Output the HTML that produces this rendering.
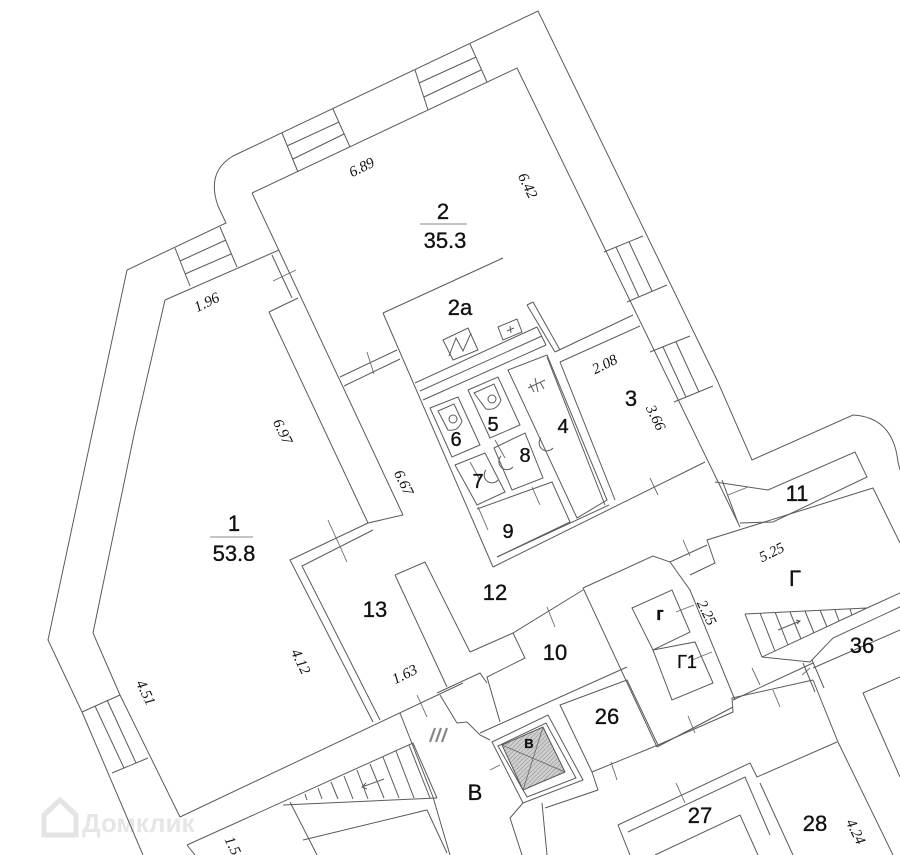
<!DOCTYPE html>
<html>
<head>
<meta charset="utf-8">
<style>
html,body{margin:0;padding:0;background:#fff;}
svg{display:block;}
.l{fill:none;stroke:#5a5a5a;stroke-width:1;stroke-linejoin:miter;}
.t{stroke:#6a6a6a;stroke-width:0.9;fill:none;}
.n{font-family:"Liberation Sans",Arial,sans-serif;font-size:22px;fill:#111;stroke:#111;stroke-width:0.35;text-anchor:middle;}
.s{font-size:20px;}
.d{font-family:"Liberation Serif","Times New Roman",serif;font-style:italic;font-size:15px;fill:#111;text-anchor:middle;dominant-baseline:central;}
</style>
</head>
<body>
<svg width="900" height="855" viewBox="0 0 900 855" xmlns="http://www.w3.org/2000/svg">
<defs>
<pattern id="h" width="3" height="3" patternUnits="userSpaceOnUse" patternTransform="rotate(45)">
<rect width="3" height="3" fill="#cfcfcf"/>
<line x1="0" y1="0" x2="0" y2="3" stroke="#8a8a8a" stroke-width="1"/>
</pattern>
</defs>
<rect width="900" height="855" fill="#fff"/>

<!-- watermark -->
<g fill="none" stroke="#e4e4e4" stroke-width="5">
<path d="M44,815 L60,800 L76,815 L76,835 L44,835 Z"/>
</g>
<text x="82" y="832" font-family="Liberation Sans,Arial,sans-serif" font-size="26" font-weight="bold" fill="#e6e6e6">Домклик</text>

<g class="l">
<!-- west / room 1 outer -->
<path d="M127,270 L48,640 L82,712 L143,855"/>
<path d="M165,300 L135,430 L93,633 L120,695 L180,817"/>
<path d="M82,712 L120,695 M112,773 L148,758 M95,706 L124,768 M107,700 L136,763"/>
<!-- top outer wall -->
<path d="M127,270 L226,223 L218,206 Q206,172 233,156 L538,11 L717,380 L752,460 L853,415 Q893,417 898,462 L900,470"/>
<!-- top-left window -->
<path d="M175,248 L190,286 M220,227 L237,267 M180,261 L226,240 M185,274 L231,254"/>
<path d="M165,300 L279,250"/>
<path d="M272,255 L292,298 M269,312 L298,298"/>
<!-- room 2 inner -->
<path d="M252,193 L517,68 L740,527"/>
<path d="M252,193 L403,515"/>
<!-- windows on top wall -->
<path d="M282,133 L298,172 M333,109 L350,147 M287,146 L339,122 M293,159 L344,134"/>
<path d="M415,70 L428,110 M470,44 L487,82 M419,83 L476,57 M424,97 L481,70"/>
<!-- windows on right wall -->
<path d="M604,252 L643,236 M627,302 L667,285 M616,247 L639,297 M629,242 L652,291"/>
<path d="M650,352 L690,336 M674,402 L713,386 M663,347 L686,397 M676,342 L699,392"/>
<!-- wall between room 1 and corridor -->
<path d="M269,312 L368,523 L403,515"/>
<path d="M368,523 L290,560 L373,722 M373,530 L302,566 L380,720"/>
<path d="M180,817 L463,683"/>
<!-- door room2 -> 12 -->
<path d="M340,377 L397,350 M344,386 L400,359"/>
<!-- 2a -->
<path d="M383,313 L503,258"/>
<path d="M383,313 L493,567"/>
<path d="M415,383 L537,327 M420,391 L542,336 M423,400 L546,345 M537,327 L546,345"/>
<path d="M527,305 L555,352 M533,302 L560,350 M527,305 L533,302"/>
<path d="M443,340 L468,328 L478,350 L453,360 Z"/>
<path d="M449,356 L456,338 L463,351 L471,333"/>
<path d="M498,327 L517,319 L522,332 L503,340 Z M507,331 L514,328 M510,326 L511,333"/>
<!-- room 3 -->
<path d="M555,352 L633,315 M560,362 L640,326"/>
<path d="M547,357 L605,505 M560,362 L615,500"/>
<path d="M493,567 L705,462 M497,557 L609,505"/>
<!-- bathroom boxes -->
<path d="M430,408 L458,397 L480,445 L452,457 Z"/>
<path d="M468,390 L498,377 L520,425 L490,438 Z"/>
<path d="M508,370 L547,355 L607,500 L577,518 Z"/>
<path d="M494,448 L525,433 L543,478 L512,490 Z"/>
<path d="M455,465 L485,453 L505,492 L477,505 Z"/>
<path d="M477,509 L552,482 L570,522 L497,557"/>
<path d="M438,411 L454,404 L462,421 Q458,432 448,430 Z M474,393 L494,384 L501,400 Q497,411 486,409 Z"/>
<circle cx="453" cy="419" r="4"/>
<circle cx="492" cy="399" r="4"/>
<path d="M486,470 A6,6 0 0 0 498,480 M501,456 A6,6 0 0 0 513,467 M541,438 A6,6 0 0 0 553,448"/>
<path d="M528,388 L545,380 M535,378 L538,392 M530,384 L534,392 M540,382 L544,389"/>
<!-- room 11 -->
<path d="M722,480 L738,523"/>
<path d="M715,482 L768,490 L855,452 L867,477 L773,522 L740,523"/>
<!-- Г top -->
<path d="M690,575 L715,563 L707,540 L873,488 L900,543"/>
<!-- stair Г -->
<path d="M745,614 L867,608 M745,614 L762,657 L867,608"/>
<path d="M760,613 L775,651 M775,612 L788,645 M790,612 L801,639 M805,611 L814,633 M820,610 L827,627 M835,610 L839,621 M850,609 L852,615"/>
<path d="M778,630 L800,621 M796,620 L800,621 L797,624"/>
<!-- room 36 -->
<path d="M762,657 L810,662 L833,638 L900,607 M867,608 L900,593"/>
<path d="M813,668 L900,630"/>
<path d="M803,663 L815,692 M812,660 L824,688"/>
<!-- central column -->
<path d="M583,588 L657,747 M583,588 L653,556 L670,562 L690,590 L735,700"/>
<path d="M670,562 L707,545"/>
<path d="M632,608 L672,590 L690,632 L653,650 Z"/>
<path d="M653,650 L695,642 L713,683 L672,700 Z"/>
<path d="M657,747 L733,707 M733,700 L813,663"/>
<!-- corridor 12 / 13 / 10 -->
<path d="M470,652 L513,633 L583,590"/>
<path d="M395,575 L425,562 L470,652 M395,575 L447,687"/>
<path d="M513,633 L525,658 L487,677 L500,722"/>
<path d="M480,733 L627,667"/>
<path d="M560,705 L627,680 L658,745 L592,772 Z"/>
<!-- lift -->
<path d="M492,742 L548,715 L583,780 L523,803 Z"/>
<path d="M498,746 L546,723 L576,778 L527,797 Z"/>
<path d="M437,693 L480,673 L487,683"/>
<path d="M440,695 L457,723 L467,722 L480,735 L490,740"/>
<path d="M400,713 L433,797 L450,855"/>
<path d="M523,803 L510,818 L522,855 M542,803 L547,855"/>
<!-- lower corridor -->
<path d="M592,772 L598,790 L545,808"/>
<path d="M658,745 L733,712 L732,698 L813,680"/>
<path d="M618,825 L750,763 L757,777 L837,742"/>
<path d="M618,825 L630,855 M628,832 L745,777 L770,835 M655,855 L740,815 L758,855"/>
<path d="M760,783 L793,855"/>
<path d="M813,680 L838,742 L893,855"/>
<path d="M900,677 L863,693 L900,777"/>
<!-- lower-left stair -->
<path d="M187,845 L413,743 L437,798"/>
<path d="M283,805 L437,798"/>
<path d="M305,794 L307,800 M318,788 L322,799 M331,782 L338,799 M344,776 L353,799 M357,770 L368,799 M370,764 L384,798 M383,757 L399,798 M396,751 L414,798 M409,745 L430,798"/>
<path d="M362,787 L384,779 M366,783 L362,787 L367,789"/>
<path d="M290,802 L317,855 M303,840 L427,810 L447,853"/>
<path d="M187,845 L195,855"/>
</g>

<!-- door ticks -->
<g class="t">
<path d="M273,281 L296,270 M367,352 L374,374 M328,520 L347,562 M417,695 L427,717 M547,607 L555,627"/>
<path d="M478,507 L488,530 M532,487 L540,505 M650,478 L658,495 M728,495 L748,487 M683,540 L690,556"/>
<path d="M676,612 L694,605 M692,660 L712,652 M752,668 L760,685 M802,675 L810,668"/>
<path d="M500,765 L490,770 M611,762 L617,780 M688,716 L695,733 M773,690 L780,707 M676,783 L685,803"/>
<path d="M470,462 L480,480 M495,440 L505,458"/>
</g>

<!-- lift hatch -->
<path d="M502,745 L543,727 L565,772 L523,790 Z" fill="url(#h)" stroke="#555" stroke-width="1"/>
<path d="M502,745 L565,772 M543,727 L523,790" stroke="#666" stroke-width="0.8" fill="none"/>

<!-- III mark -->
<g stroke="#888" stroke-width="2.2">
<path d="M430,742 L435,728 M436,742 L441,728 M442,742 L447,728"/>
</g>

<!-- fraction lines -->
<path d="M420,224 L467,224 M210,537 L253,537" stroke="#888" stroke-width="1"/>

<!-- room numbers -->
<text class="n" x="443" y="219">2</text>
<text class="n" x="445" y="248">35.3</text>
<text class="n" x="460" y="315">2a</text>
<text class="n" x="234" y="531">1</text>
<text class="n" x="234" y="561">53.8</text>
<text class="n" x="631" y="406">3</text>
<text class="n s" x="456" y="446">6</text>
<text class="n s" x="493" y="431">5</text>
<text class="n s" x="563" y="433">4</text>
<text class="n s" x="478" y="488">7</text>
<text class="n s" x="525" y="462">8</text>
<text class="n s" x="508" y="538">9</text>
<text class="n" x="797" y="501">11</text>
<text class="n" x="375" y="617">13</text>
<text class="n" x="495" y="600">12</text>
<text class="n" x="555" y="660">10</text>
<text class="n" x="795" y="586">Г</text>
<text class="n" x="660" y="620" style="font-size:18px;font-weight:bold">г</text>
<text class="n" x="687" y="668" style="font-size:18px">Г1</text>
<text class="n" x="862" y="653">36</text>
<text class="n" x="607" y="724">26</text>
<text class="n" x="700" y="823">27</text>
<text class="n" x="815" y="831">28</text>
<text class="n" x="475" y="800">В</text>
<text class="n" x="529" y="748" style="font-size:13px;font-weight:bold">В</text>

<!-- dimensions -->
<text class="d" transform="translate(362,168) rotate(-26)">6.89</text>
<text class="d" transform="translate(527,186) rotate(64)">6.42</text>
<text class="d" transform="translate(207,303) rotate(-26)">1.96</text>
<text class="d" transform="translate(282,432) rotate(64)">6.97</text>
<text class="d" transform="translate(605,365) rotate(-26)">2.08</text>
<text class="d" transform="translate(655,418) rotate(64)">3.66</text>
<text class="d" transform="translate(403,483) rotate(64)">6.67</text>
<text class="d" transform="translate(300,662) rotate(64)">4.12</text>
<text class="d" transform="translate(145,693) rotate(64)">4.51</text>
<text class="d" transform="translate(405,675) rotate(-26)">1.63</text>
<text class="d" transform="translate(772,553) rotate(-26)">5.25</text>
<text class="d" transform="translate(706,613) rotate(64)">2.25</text>
<text class="d" transform="translate(855,832) rotate(64)">4.24</text>
<text class="d" transform="translate(232,846) rotate(64)">1.5</text>
</svg>
</body>
</html>
